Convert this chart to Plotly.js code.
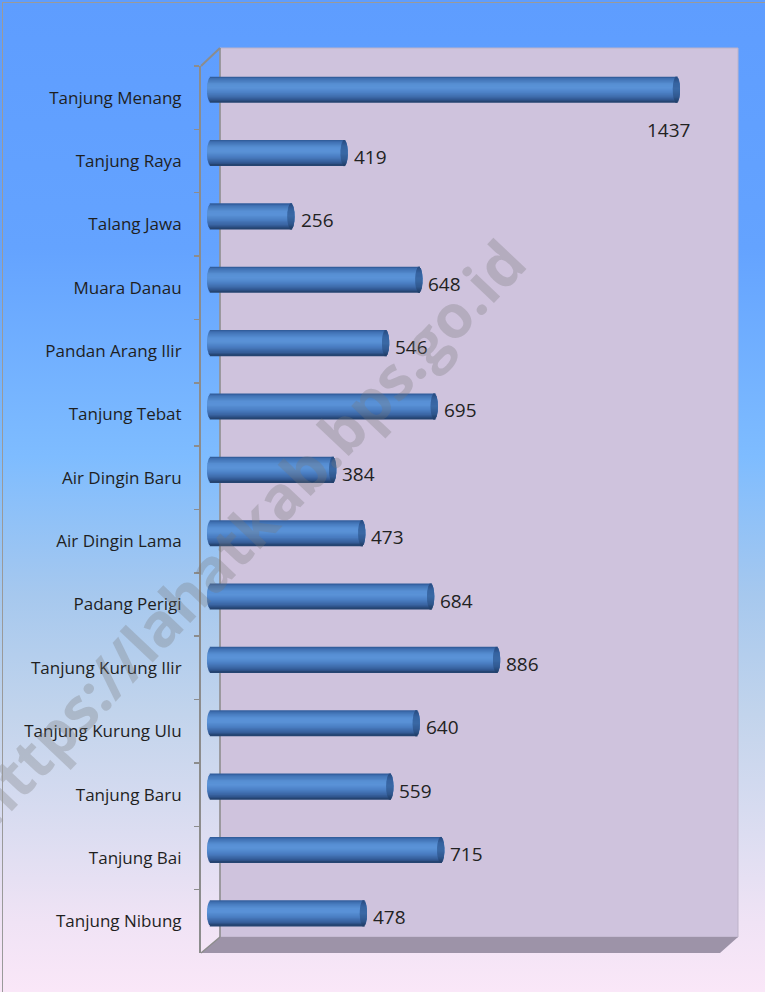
<!DOCTYPE html>
<html>
<head>
<meta charset="utf-8">
<script src="https://cdn.plot.ly/plotly-3.0.1.min.js"></script>
<style>
  html, body { margin:0; padding:0; }
  body { width:765px; height:992px; overflow:hidden;
    background: linear-gradient(to bottom, #5E9DFF 0%, #64A3FF 25%, #7EBCFF 46%, #A6C8EE 60%, #C2D4EC 72%, #DCDDF1 84%, #F0E3F5 93%, #FAE7F8 100%); }
  #frame { position:absolute; left:2px; top:2px; width:763px; height:990px;
    border-left:1.5px solid #9a9a9a; border-top:1.5px solid #9a9a9a; pointer-events:none; }
  #chart { position:absolute; left:0; top:0; width:765px; height:992px; }
</style>
</head>
<body>
<div id="chart"></div>
<div id="frame"></div>
<script>
// ---- data ----
const categories = ["Tanjung Menang","Tanjung Raya","Talang Jawa","Muara Danau","Pandan Arang Ilir",
  "Tanjung Tebat","Air Dingin Baru","Air Dingin Lama","Padang Perigi","Tanjung Kurung Ilir",
  "Tanjung Kurung Ulu","Tanjung Baru","Tanjung Bai","Tanjung Nibung"];
const values = [1437, 419, 256, 648, 546, 695, 384, 473, 684, 886, 640, 559, 715, 478];
const watermark = "https://lahatkab.bps.go.id";

// ---- layout geometry (pixels) ----
const W = 765, H = 992;
const L = 201, R = 45, T = 66, B = 39;
const PW = W - L - R, PH = H - T - B;
const px = x => (x - L) / PW;
const py = y => 1 - (y - T) / PH;

const xRange = [-30.6, 1559.5];
const unitsPerPx = (xRange[1] - xRange[0]) / PW;

// ---- cylinder styling ----
const shift = -0.126;          // 3D offset of bars (upwards), category units
const thick = 0.40;
const top0 = shift - thick / 2;
const N = 20;
const dh = thick / N;
const capA = 3.6 * unitsPerPx;  // ellipse semi-axis of the end cap
const leftA = 4 * unitsPerPx;

function hex(c){ return [parseInt(c.slice(1,3),16), parseInt(c.slice(3,5),16), parseInt(c.slice(5,7),16)]; }
function grad(stops, t){
  for (let i = 1; i < stops.length; i++) {
    if (t <= stops[i][0]) {
      const [t0, c0] = stops[i-1], [t1, c1] = stops[i];
      const f = (t - t0) / (t1 - t0), a = hex(c0), b = hex(c1);
      return 'rgb(' + a.map((v, j) => Math.round(v + (b[j] - v) * f)).join(',') + ')';
    }
  }
  return stops[stops.length-1][1];
}
const bodyStops = [[0,'#2C5692'],[0.08,'#3F70B2'],[0.3,'#5890D4'],[0.45,'#5A92D7'],[0.65,'#4A7FC3'],
  [0.85,'#3962A0'],[0.95,'#2B4D80'],[1,'#1F3A62']];
const capStops = [[0,'#27497D'],[0.25,'#3563A0'],[0.5,'#3A69A6'],[0.8,'#30588F'],[1,'#203C66']];

const traces = [];
for (let k = 0; k < N; k++) {
  const t = (k + 0.5) / N;
  const tc = 2 * t - 1;
  const hw = Math.sqrt(Math.max(0, 1 - tc * tc));
  const off = top0 + k * dh - dh * 0.3;
  const w = dh * 1.6;
  traces.push({ type:'bar', orientation:'h', y:categories,
    base: values.map(() => -leftA * hw),
    x: values.map(v => v - capA + capA * hw + leftA * hw),
    offset: off, width: w, marker:{ color: grad(bodyStops, t), line:{width:0} },
    hoverinfo:'skip', showlegend:false });
}
for (let k = 0; k < N; k++) {
  const t = (k + 0.5) / N;
  const tc = 2 * t - 1;
  const hw = Math.sqrt(Math.max(0, 1 - tc * tc));
  const off = top0 + k * dh - dh * 0.3;
  const w = dh * 1.6;
  traces.push({ type:'bar', orientation:'h', y:categories,
    base: values.map(v => v - capA - capA * hw),
    x: values.map(() => 2 * capA * hw),
    offset: off, width: w, marker:{ color: grad(capStops, t), line:{width:0} },
    hoverinfo:'skip', showlegend:false });
}

const maxIdx = values.indexOf(Math.max(...values));
const annotations = values.map((v, i) => i === maxIdx ? {
  x: v, y: categories[i], xref:'x', yref:'y', text: String(v), showarrow:false,
  xanchor:'center', yanchor:'middle', xshift:-12, yshift:-32,
  font:{ family:'Open Sans, sans-serif', size:19, color:'#222' }
} : {
  x: v, y: categories[i], xref:'x', yref:'y', text: String(v), showarrow:false,
  xanchor:'left', yanchor:'middle', xshift:4, yshift:4,
  font:{ family:'Open Sans, sans-serif', size:19, color:'#222' }
});
annotations.push({
  xref:'paper', yref:'paper', x: px(245), y: py(532), text: '<b>' + watermark + '</b>',
  showarrow:false, textangle:-46.5, xanchor:'center', yanchor:'middle',
  font:{ family:'Open Sans, sans-serif', size:60, color:'rgba(120,120,120,0.30)' }
});

const grey = '#8C8C8C';
const shapes = [
  { type:'rect', xref:'paper', yref:'paper', x0:px(220), x1:px(738), y0:py(937), y1:py(48),
    fillcolor:'#CFC3DD', line:{ color:'#BDB3C9', width:1 }, layer:'below' },
  { type:'path', xref:'paper', yref:'paper', layer:'below',
    path:`M ${px(201)} ${py(953)} L ${px(220)} ${py(937)} L ${px(738)} ${py(937)} L ${px(720)} ${py(953)} Z`,
    fillcolor:'#9D93A8', line:{ width:0 } },
  { type:'line', xref:'paper', yref:'paper', x0:px(201), y0:py(66), x1:px(220), y1:py(48), line:{ color:grey, width:2 } },
  { type:'line', xref:'paper', yref:'paper', x0:px(220), y0:py(48), x1:px(220), y1:py(937), line:{ color:grey, width:1.5 }, layer:'below' },
  { type:'line', xref:'paper', yref:'paper', x0:px(201), y0:py(953), x1:px(220), y1:py(937), line:{ color:grey, width:1.5 } }
];

const layout = {
  width: W, height: H,
  margin: { l:L, r:R, t:T, b:B, pad:0 },
  paper_bgcolor: 'rgba(0,0,0,0)', plot_bgcolor: 'rgba(0,0,0,0)',
  barmode: 'overlay',
  showlegend: false,
  xaxis: { range: xRange, visible: false, fixedrange:true },
  yaxis: { type:'category', range:[13.5, -0.5], categoryarray: categories, categoryorder:'array',
    showline:true, linecolor:grey, linewidth:2, showgrid:false, zeroline:false,
    ticks:'outside', tickson:'boundaries', ticklen:5, tickcolor:grey, tickwidth:1.5,
    ticklabelstandoff: 14,
    tickfont:{ family:'Open Sans, sans-serif', size:17, color:'#1F1F1F' } },
  shapes: shapes,
  annotations: annotations
};

Plotly.newPlot('chart', traces, layout, { displayModeBar:false, staticPlot:true });
</script>
</body>
</html>
